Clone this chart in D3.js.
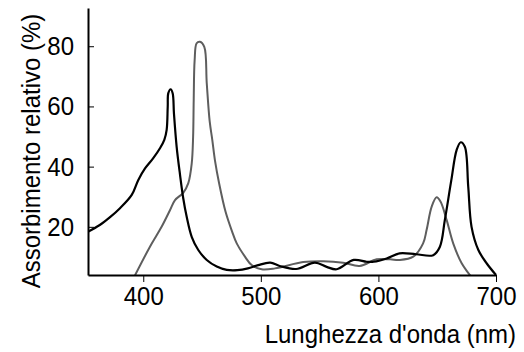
<!DOCTYPE html>
<html>
<head>
<meta charset="utf-8">
<script src="https://cdn.jsdelivr.net/npm/d3@7"></script>
<style>
  body { margin: 0; background: #fff; }
  text { font-family: "Liberation Sans", Arial, sans-serif; fill: #000; }
</style>
</head>
<body>
<script>
// wavelength (nm) and relative absorbance (%)
const blackNm  = [353, 363, 372, 380.2, 390.2, 395.8, 401.5, 408.5, 414.2, 417.9, 419.9, 420.8, 421.3, 423.3, 425, 426.1, 428.4, 431.2, 434, 436.9, 441.2, 446.8, 454, 462.5, 471, 480, 489, 497.8, 508, 516, 530, 546, 556, 564.5, 579, 590, 596, 607, 618, 632, 646.6, 652.3, 656.5, 662, 666.5, 670, 673.5, 676.4, 679.2, 685, 692, 700];
const blackVal = [18.4, 20.6, 23.3, 26.2, 30.6, 35.6, 39.4, 42.8, 46.1, 48.9, 52.2, 59.9, 64.4, 65.7, 64.4, 57.7, 46.6, 37.5, 29.5, 23.4, 16.7, 12.3, 9.0, 6.8, 5.7, 5.6, 6.2, 7.3, 8.1, 7.0, 6.0, 8.1, 6.7, 5.9, 9.0, 8.4, 8.4, 9.5, 11.2, 10.9, 10.6, 13.4, 22.3, 35.5, 45.5, 48.1, 46.6, 33.3, 20.0, 12.3, 7.9, 4.0];

const greyNm  = [393, 405.7, 415.6, 422.7, 427, 434, 438.3, 441.2, 442.4, 442.9, 443.7, 445.4, 448.2, 451.9, 454, 456.5, 458.7, 461, 464.5, 470, 475.5, 479.5, 486.5, 492.2, 500.7, 512, 536, 553, 570, 584, 598.5, 610, 618, 629.6, 638, 641, 645.3, 649.5, 652.9, 658, 663.6, 670.8, 678];
const greyVal = [3.9, 13.4, 20, 25.5, 28.9, 31.3, 34.5, 41, 50, 62, 75.4, 81, 81.5, 79.8, 67.7, 55, 48.9, 42, 34.5, 25, 18.5, 14.5, 10.1, 7.3, 5.9, 6.2, 8.3, 8.6, 8.1, 7.0, 9.2, 9.2, 9.0, 10.1, 14.5, 19, 26.7, 29.8, 28.3, 22.3, 14.5, 7.9, 3.9];

const xTicks = [400, 500, 600, 700];
const yTicks = [20, 40, 60, 80];

const W = 524, H = 352;
const stretch = 1.1; // the lettering is a bit taller than Arial
const svg = d3.select("body").append("svg")
  .attr("width", W).attr("height", H);

const x = d3.scaleLinear().domain([353, 700]).range([88, 496]);
const y = d3.scaleLinear().domain([4, 92.7]).range([275, 8]);

svg.append("defs").append("clipPath").attr("id", "plot")
  .append("rect").attr("x", 88).attr("y", 0).attr("width", 410).attr("height", 275);

const line = d3.line()
  .x(d => x(d[0]))
  .y(d => y(d[1]))
  .curve(d3.curveCatmullRom.alpha(0.5));

const curves = svg.append("g").attr("clip-path", "url(#plot)");
curves.append("path")
  .datum(d3.zip(greyNm, greyVal))
  .attr("d", line)
  .attr("fill", "none")
  .attr("stroke", "#5e5e5e")
  .attr("stroke-width", 2);
curves.append("path")
  .datum(d3.zip(blackNm, blackVal))
  .attr("d", line)
  .attr("fill", "none")
  .attr("stroke", "#000")
  .attr("stroke-width", 2.2);

// axes
const xAxis = svg.append("g")
  .attr("transform", "translate(0,275)")
  .call(d3.axisBottom(x).tickValues(xTicks).tickSize(7).tickSizeOuter(0).tickPadding(3));
const yAxis = svg.append("g")
  .attr("transform", "translate(88,0)")
  .call(d3.axisLeft(y).tickValues(yTicks).tickSize(-6).tickSizeOuter(0).tickPadding(14));

[xAxis, yAxis].forEach(g => {
  g.select(".domain").attr("stroke", "#000").attr("stroke-width", 2);
  g.selectAll(".tick line").attr("stroke", "#000").attr("stroke-width", 1);
  g.selectAll(".tick text")
    .attr("font-family", "Liberation Sans, Arial, sans-serif")
    .attr("font-size", 24).attr("fill", "#000");
});
xAxis.selectAll(".tick text").attr("transform", `scale(1,${stretch})`);
yAxis.selectAll(".tick text").attr("transform", `scale(1,${stretch})`)
  .attr("dy", null).attr("y", 8.5 / stretch);

svg.append("text")
  .attr("transform", `translate(516,343) scale(1,${stretch})`)
  .attr("text-anchor", "end")
  .attr("font-size", 24)
  .text("Lunghezza d'onda (nm)");

svg.append("text")
  .attr("transform", `translate(40,151) scale(${stretch},1) rotate(-90)`)
  .attr("text-anchor", "middle")
  .attr("font-size", 24)
  .text("Assorbimento relativo (%)");
</script>
</body>
</html>
